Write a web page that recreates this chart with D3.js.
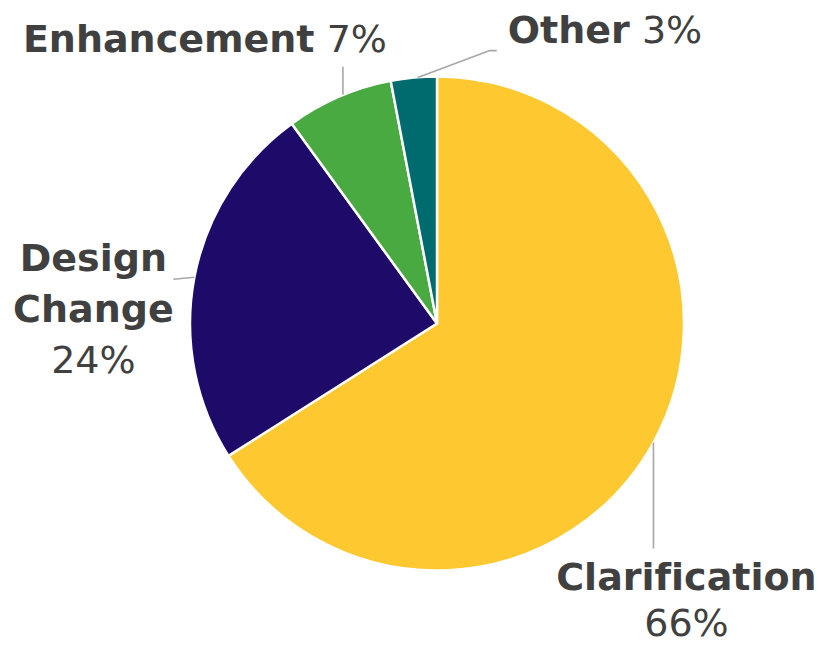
<!DOCTYPE html>
<html>
<head>
<meta charset="utf-8">
<script src="https://cdn.jsdelivr.net/npm/d3@7/dist/d3.min.js"></script>
<style>
  html, body { margin: 0; padding: 0; background: #fff; }
  svg { display: block; }
  text { font-family: "DejaVu Sans", Verdana, sans-serif; fill: #404040; font-variant-ligatures: none; font-feature-settings: "liga" 0; }
</style>
</head>
<body>
<svg id="chart" width="821" height="646"></svg>
<script>
const categories = ["Clarification", "Design Change", "Enhancement", "Other"];
const values = [66, 24, 7, 3];
const colors = ["#FEC830", "#1E0B69", "#4AAA42", "#006B6E"];
// label text lines (bold name lines, then percent)
const labelLines = [["Clarification"], ["Design", "Change"], ["Enhancement"], ["Other"]];

const W = 821, H = 646;
const cx = 437, cy = 323.5, R = 247;
const fontSize = 38;

const svg = d3.select("#chart");
const g = svg.append("g").attr("transform", `translate(${cx},${cy})`);

const data = categories.map((c, i) => ({ name: c, value: values[i], color: colors[i], lines: labelLines[i] }));

const pie = d3.pie().value(d => d.value).sort(null);
const arcs = pie(data);
const arc = d3.arc().innerRadius(0).outerRadius(R);

g.selectAll("path.slice")
  .data(arcs)
  .join("path")
  .attr("class", "slice")
  .attr("d", arc)
  .attr("fill", d => d.data.color)
  .attr("stroke", "#fff")
  .attr("stroke-width", 2.5)
  .attr("stroke-linejoin", "round");

// Leader line start point on the rim at mid-angle
function rim(d, r) {
  const a = (d.startAngle + d.endAngle) / 2;
  return [r * Math.sin(a), -r * Math.cos(a)];
}

// label layout (relative offsets from the rim point)
const layout = {
  "Clarification": { leader: p => [p, [p[0], p[1] + 106]], text: p => ({ x: p[0] + 33, y: p[1] + 148, anchor: "middle", mode: "stack", last: 46 }) },
  "Design Change": { leader: p => [p, [p[0] - 21, p[1] + 2]], text: p => ({ x: p[0] - 101, y: p[1] - 6, anchor: "middle", mode: "stack", last: 51 }) },
  "Enhancement":   { leader: p => [[p[0] + 4, p[1] - 2], [p[0] + 4, p[1] - 30]], text: p => ({ x: p[0] - 134, y: p[1] - 45, anchor: "middle", mode: "inline" }) },
  "Other":         { leader: p => [[p[0] + 4, p[1]], [p[0] + 76, p[1] - 27], [p[0] + 83, p[1] - 27]], text: p => ({ x: p[0] + 94, y: p[1] - 35, anchor: "start", mode: "inline" }) }
};

arcs.forEach(d => {
  const p = rim(d, R);
  const L = layout[d.data.name];
  g.append("path")
    .attr("d", d3.line()(L.leader(p)))
    .attr("fill", "none")
    .attr("stroke", "#A6A6A6")
    .attr("stroke-width", 1.6);

  const t = L.text(p);
  const txt = g.append("text")
    .attr("x", t.x).attr("y", t.y)
    .attr("text-anchor", t.anchor)
    .style("font-size", fontSize + "px");
  const pct = d.data.value + "%";
  if (t.mode === "inline") {
    txt.append("tspan").attr("font-weight", "bold").text(d.data.lines.join(" "));
    txt.append("tspan").attr("font-weight", "normal").text("\u00A0" + pct);
  } else {
    d.data.lines.forEach((ln, i) => {
      txt.append("tspan").attr("x", t.x).attr("dy", i === 0 ? 0 : 51)
        .attr("font-weight", "bold").text(ln);
    });
    txt.append("tspan").attr("x", t.x).attr("dy", t.last)
      .attr("font-weight", "normal").text(pct);
  }
});
</script>
</body>
</html>
